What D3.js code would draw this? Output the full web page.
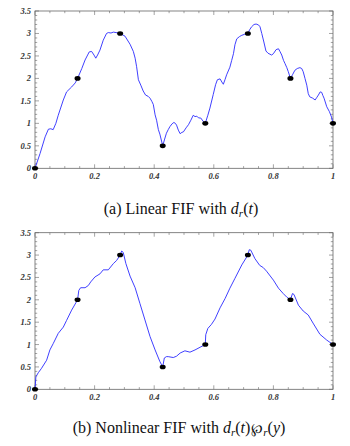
<!DOCTYPE html>
<html><head><meta charset="utf-8">
<script src="https://cdn.jsdelivr.net/npm/d3@7"></script>
<style>body{margin:0;background:#fff}svg{display:block}</style>
</head><body>
<script>
// Interpolation nodes (black dots)
const nodeX = [0, 1/7, 2/7, 3/7, 4/7, 5/7, 6/7, 1];
const nodeY = [0, 2, 3, 0.5, 1, 3, 2, 1];

// (a) Linear FIF curve
const linX = [0,0.017,0.034,0.045,0.053,0.061,0.070,0.078,0.095,0.106,0.123,0.135,0.1429,0.157,0.168,0.182,0.190,0.198,0.204,0.210,0.218,0.229,0.240,0.246,0.255,0.263,0.272,0.2857,0.302,0.319,0.330,0.336,0.341,0.347,0.355,0.363,0.371,0.380,0.386,0.392,0.397,0.403,0.408,0.414,0.419,0.4286,0.435,0.441,0.447,0.453,0.460,0.466,0.471,0.475,0.481,0.487,0.493,0.498,0.507,0.515,0.523,0.531,0.537,0.543,0.549,0.556,0.565,0.5714,0.580,0.587,0.598,0.606,0.612,0.621,0.627,0.632,0.638,0.643,0.654,0.660,0.666,0.671,0.677,0.686,0.694,0.703,0.7143,0.720,0.727,0.735,0.742,0.750,0.755,0.761,0.768,0.775,0.782,0.794,0.800,0.809,0.817,0.822,0.828,0.834,0.839,0.845,0.850,0.8571,0.864,0.872,0.880,0.889,0.895,0.900,0.906,0.912,0.917,0.922,0.932,0.940,0.946,0.951,0.957,0.962,0.966,0.970,0.979,0.988,0.995,1];
const linY = [0,0.33,0.70,0.87,0.88,0.86,1.0,1.18,1.52,1.70,1.81,1.90,2.0,2.22,2.41,2.59,2.60,2.52,2.45,2.52,2.63,2.85,3.00,3.02,3.01,3.03,3.02,3.0,2.94,2.76,2.60,2.45,2.26,1.97,1.85,1.72,1.63,1.60,1.56,1.49,1.42,1.19,1.07,0.86,0.76,0.5,0.65,0.78,0.86,0.93,0.99,1.02,1.00,0.96,0.85,0.77,0.80,0.81,0.90,0.97,1.07,1.18,1.15,1.16,1.12,1.12,1.04,1.0,1.18,1.34,1.64,1.86,1.97,1.99,1.92,1.87,1.98,2.08,2.25,2.40,2.55,2.75,2.88,2.93,2.96,2.98,3.0,3.08,3.15,3.20,3.21,3.19,3.15,3.0,2.81,2.61,2.56,2.52,2.55,2.64,2.66,2.60,2.52,2.40,2.33,2.24,2.15,2.0,2.08,2.18,2.22,2.24,2.22,2.15,2.00,1.85,1.66,1.59,1.56,1.52,1.58,1.63,1.70,1.69,1.62,1.56,1.37,1.26,1.14,1.0];

// (b) Nonlinear FIF curve
const nonX = [0,0.003,0.011,0.022,0.039,0.050,0.061,0.078,0.095,0.106,0.123,0.1429,0.147,0.153,0.168,0.179,0.187,0.201,0.218,0.229,0.246,0.263,0.274,0.2857,0.291,0.296,0.305,0.319,0.336,0.352,0.369,0.386,0.403,0.419,0.4286,0.434,0.441,0.447,0.464,0.475,0.487,0.503,0.520,0.537,0.554,0.5714,0.573,0.580,0.592,0.604,0.621,0.638,0.654,0.671,0.694,0.7143,0.719,0.724,0.738,0.754,0.766,0.777,0.800,0.817,0.833,0.845,0.8571,0.864,0.869,0.884,0.900,0.917,0.933,0.956,0.979,1];
const nonY = [0,0.28,0.37,0.47,0.65,0.88,1.02,1.25,1.39,1.54,1.77,2.0,2.21,2.27,2.27,2.32,2.40,2.51,2.58,2.67,2.67,2.81,2.88,3.0,3.09,3.06,2.81,2.53,2.27,1.92,1.55,1.18,0.88,0.62,0.5,0.70,0.73,0.73,0.71,0.74,0.81,0.86,0.83,0.88,0.94,1.0,1.22,1.36,1.45,1.57,1.82,2.03,2.26,2.48,2.78,3.0,3.12,3.11,2.92,2.77,2.72,2.64,2.44,2.26,2.14,2.06,2.0,2.14,2.12,1.88,1.75,1.66,1.48,1.23,1.10,1.0];

const xTickVals = [0, 0.2, 0.4, 0.6, 0.8, 1];
const xTickLabels = ["0", "0.2", "0.4", "0.6", "0.8", "1"];
const yTickVals = [0, 0.5, 1, 1.5, 2, 2.5, 3, 3.5];
const yTickLabels = ["0", "0.5", "1", "1.5", "2", "2.5", "3", "3.5"];

const W = 350, H = 446;
const svg = d3.select("body").append("svg").attr("width", W).attr("height", H);
const lf = "'Liberation Serif','Times New Roman',serif";

function panel(top, bottom, xs, ys, caption, captionX, captionY) {
  const x = d3.scaleLinear().domain([0, 1]).range([35, 333]);
  const y = d3.scaleLinear().domain([0, 3.5]).range([bottom, top]);
  const g = svg.append("g");
  const frameColor = "#666";
  const xMinor = d3.range(0, 1.0001, 0.05);
  const yMinor = d3.range(0, 3.5001, 0.1);
  const tk = g.append("g").attr("stroke", frameColor).attr("stroke-width", 0.6);
  xMinor.forEach(v => {
    const major = xTickVals.some(t => Math.abs(t - v) < 1e-6);
    const L = major ? 4 : 2.2;
    tk.append("line").attr("x1", x(v)).attr("x2", x(v)).attr("y1", bottom).attr("y2", bottom - L);
    tk.append("line").attr("x1", x(v)).attr("x2", x(v)).attr("y1", top).attr("y2", top + L);
  });
  yMinor.forEach(v => {
    const major = yTickVals.some(t => Math.abs(t - v) < 1e-6);
    const L = major ? 4 : 2.2;
    tk.append("line").attr("y1", y(v)).attr("y2", y(v)).attr("x1", 35).attr("x2", 35 + L);
    tk.append("line").attr("y1", y(v)).attr("y2", y(v)).attr("x1", 333).attr("x2", 333 - L);
  });
  g.append("rect").attr("x", 35).attr("y", top).attr("width", 298).attr("height", bottom - top)
    .attr("fill", "none").attr("stroke", frameColor).attr("stroke-width", 0.8);
  xTickVals.forEach((v, i) => {
    g.append("text").attr("x", x(v)).attr("y", bottom + 11).attr("text-anchor", "middle")
      .attr("font-family", lf).attr("font-style", "italic").attr("font-weight", "bold")
      .attr("font-size", 8.5).attr("fill", "#333").text(xTickLabels[i]);
  });
  yTickVals.forEach((v, i) => {
    g.append("text").attr("x", 31).attr("y", y(v) + 3).attr("text-anchor", "end")
      .attr("font-family", lf).attr("font-style", "italic").attr("font-weight", "bold")
      .attr("font-size", 8.5).attr("fill", "#333").text(yTickLabels[i]);
  });
  const data = xs.map((d, i) => [d, ys[i]]);
  g.append("path").datum(data)
    .attr("d", d3.line().x(d => x(d[0])).y(d => y(d[1])))
    .attr("fill", "none").attr("stroke", "#2a2aff").attr("stroke-width", 0.9).attr("stroke-linejoin", "round");
  g.selectAll("ellipse.node").data(nodeX.map((d, i) => [d, nodeY[i]])).enter().append("ellipse")
    .attr("cx", d => x(d[0])).attr("cy", d => y(d[1])).attr("rx", 3).attr("ry", 2.3).attr("fill", "#000");
  const cap = g.append("text").attr("x", captionX).attr("y", captionY).attr("text-anchor", "middle")
    .attr("font-family", lf).attr("font-size", 16).attr("fill", "#111");
  caption(cap);
}

panel(11, 168.3, linX, linY, t => {
  t.append("tspan").text("(a) Linear FIF with ");
  t.append("tspan").attr("font-style", "italic").text("d");
  t.append("tspan").attr("font-style", "italic").attr("font-size", 11).attr("dy", 3).text("r");
  t.append("tspan").attr("dy", -3).text("(");
  t.append("tspan").attr("font-style", "italic").text("t");
  t.append("tspan").text(")");
}, 181, 214);

panel(232.7, 389.3, nonX, nonY, t => {
  t.append("tspan").text("(b) Nonlinear FIF with ");
  t.append("tspan").attr("font-style", "italic").text("d");
  t.append("tspan").attr("font-style", "italic").attr("font-size", 11).attr("dy", 3).text("r");
  t.append("tspan").attr("dy", -3).text("(");
  t.append("tspan").attr("font-style", "italic").text("t");
  t.append("tspan").text(")");
  t.append("tspan").attr("font-family", "'DejaVu Serif',serif").attr("font-size", 14).attr("dx", 1).text("\u2118");
  t.append("tspan").attr("font-style", "italic").attr("font-size", 11).attr("dy", 3).text("r");
  t.append("tspan").attr("dy", -3).text("(");
  t.append("tspan").attr("font-style", "italic").text("y");
  t.append("tspan").text(")");
}, 179, 433);
</script>
</body></html>
